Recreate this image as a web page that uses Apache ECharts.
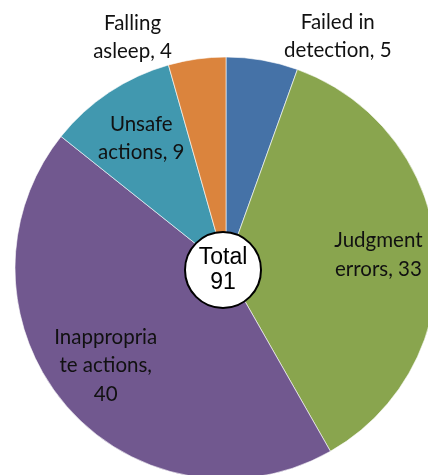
<!DOCTYPE html>
<html>
<head>
<meta charset="utf-8">
<script src="https://cdn.jsdelivr.net/npm/echarts@6/dist/echarts.min.js"></script>
<style>html,body{margin:0;padding:0;background:#fff}#c{width:428px;height:475px}</style>
</head>
<body>
<div id="c"></div>
<script>
const categories = ['Failed in\ndetection', 'Judgment\nerrors', 'Inappropria\nte actions', 'Unsafe\nactions', 'Falling\nasleep'];
const values = [5, 33, 40, 9, 4];
const colors = ['#4572A7', '#89A54E', '#71588F', '#4198AF', '#DB843D'];
const outsideLabel = [true, false, false, false, true];
const totalLabel = 'Total';

const total = values.reduce((a, b) => a + b, 0);
const center = [226, 268];
const R = 211;
const labelFont = 'Lato';
const fmt = p => p.name + ',' + (p.dataIndex === 2 ? '\n' : ' ') + p.value;
const labelStyle = {formatter: fmt, color: '#111', fontFamily: labelFont, fontSize: 20.5, lineHeight: 28.5};

const chart = echarts.init(document.getElementById('c'), null, {renderer: 'canvas'});
chart.setOption({
  animation: false,
  series: [
    {
      type: 'pie', center: center, radius: [0, R], startAngle: 90, clockwise: true,
      silent: true,
      label: {show: false}, labelLine: {show: false},
      itemStyle: {borderColor: '#ffffff', borderWidth: 0.6},
      data: categories.map((n, i) => ({name: n, value: values[i], itemStyle: {color: colors[i]}}))
    },
    {
      type: 'pie', center: center, radius: [106, 194], startAngle: 90, clockwise: true,
      silent: true, labelLine: {show: false}, avoidLabelOverlap: false,
      itemStyle: {color: 'rgba(0,0,0,0)'},
      label: Object.assign({position: 'inside'}, labelStyle),
      labelLayout: function (p) {
        if (p.dataIndex === 3) return {dy: -2, hideOverlap: false};
        if (p.dataIndex === 2) return {dx: -4, dy: -2, hideOverlap: false};
        return {hideOverlap: false};
      },
      data: categories.map((n, i) => ({name: n, value: values[i], label: {show: !outsideLabel[i]}}))
    },
    {
      type: 'pie', center: center, radius: [230, 250], startAngle: 90, clockwise: true,
      silent: true, labelLine: {show: false}, avoidLabelOverlap: false,
      itemStyle: {color: 'rgba(0,0,0,0)'},
      label: Object.assign({position: 'inside'}, labelStyle),
      labelLayout: function (p) {
        if (p.dataIndex === 4) return {dx: -60, dy: 10, hideOverlap: false};
        if (p.dataIndex === 0) return {dx: 70, dy: 8, hideOverlap: false};
        return {hideOverlap: false};
      },
      data: categories.map((n, i) => ({name: n, value: values[i], label: {show: outsideLabel[i]}}))
    },
    {
      type: 'pie', center: [223, 270], radius: [0, 38], silent: true,
      itemStyle: {color: '#ffffff', borderColor: '#000000', borderWidth: 2},
      labelLine: {show: false},
      label: {position: 'center', formatter: '{b}\n{c}', color: '#000', fontFamily: 'Liberation Sans', fontSize: 23, lineHeight: 25},
      data: [{name: totalLabel, value: total}]
    }
  ]
});
</script>
</body>
</html>
